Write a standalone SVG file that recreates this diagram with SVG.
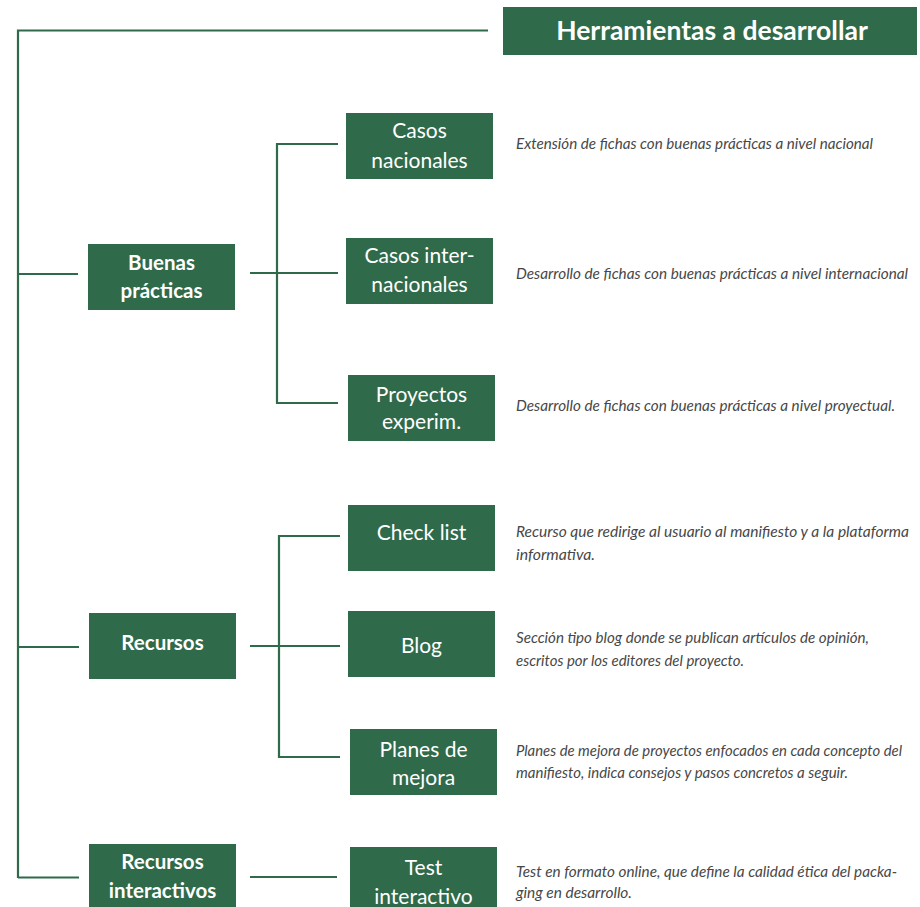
<svg xmlns="http://www.w3.org/2000/svg" width="920" height="907" viewBox="0 0 920 907">
  <style>
    .box { fill: #2f6a4a; }
    .wire { fill: none; stroke: #2f6a4a; stroke-width: 2.2; }
    .lbl { font-family: Lato, "Noto Sans", sans-serif; font-size: 21px; fill: #ffffff; text-anchor: middle; }
    .lbl-b { font-family: Lato, "Noto Sans", sans-serif; font-size: 20.5px; font-weight: 700; fill: #ffffff; text-anchor: middle; }
    .title { font-family: Lato, "Noto Sans", sans-serif; font-size: 26.5px; font-weight: 700; fill: #ffffff; text-anchor: middle; }
    .desc { font-family: Lato, "Noto Sans", sans-serif; font-size: 15px; font-style: italic; font-weight: 400; fill: #474747; }
  </style>
  <rect width="920" height="907" fill="#ffffff"/>

  <!-- connectors -->
  <g id="connectors">
    <polyline class="wire" points="488,30.5 18,30.5 18,878"/>
    <line class="wire" x1="18" y1="274" x2="78" y2="274"/>
    <line class="wire" x1="18" y1="647" x2="79" y2="647"/>
    <line class="wire" x1="18" y1="877.5" x2="79" y2="877.5"/>
    <!-- Buenas prácticas branch -->
    <line class="wire" x1="250" y1="273" x2="338" y2="273"/>
    <polyline class="wire" points="338,144 277,144 277,403 338,403"/>
    <!-- Recursos branch -->
    <line class="wire" x1="250" y1="646" x2="340" y2="646"/>
    <polyline class="wire" points="340,536 279,536 279,757 340,757"/>
    <!-- Recursos interactivos branch -->
    <line class="wire" x1="250" y1="877" x2="337" y2="877"/>
  </g>

  <g id="title">
    <rect class="box" x="503" y="7" width="414" height="48"/>
    <text class="title" x="712" y="40">Herramientas a desarrollar</text>
  </g>

  <g id="buenas-practicas">
    <rect class="box" x="88" y="244" width="147" height="66"/>
    <text class="lbl-b" x="161.5" y="270">Buenas</text>
    <text class="lbl-b" x="161.5" y="298">prácticas</text>
  </g>

  <g id="recursos">
    <rect class="box" x="89" y="613" width="147" height="66"/>
    <text class="lbl-b" x="162.5" y="650">Recursos</text>
  </g>

  <g id="recursos-interactivos">
    <rect class="box" x="89" y="844" width="147" height="63"/>
    <text class="lbl-b" x="162.5" y="869">Recursos</text>
    <text class="lbl-b" x="162.5" y="898">interactivos</text>
  </g>

  <g id="casos-nacionales">
    <rect class="box" x="346" y="113" width="147" height="66"/>
    <text class="lbl" x="419.5" y="138">Casos</text>
    <text class="lbl" x="419.5" y="167.5">nacionales</text>
  </g>

  <g id="casos-internacionales">
    <rect class="box" x="346" y="238" width="147" height="66"/>
    <text class="lbl" x="419.5" y="263">Casos inter-</text>
    <text class="lbl" x="419.5" y="292">nacionales</text>
  </g>

  <g id="proyectos-experim">
    <rect class="box" x="348" y="375" width="147" height="66"/>
    <text class="lbl" x="421.5" y="401.5">Proyectos</text>
    <text class="lbl" x="421.5" y="428.5">experim.</text>
  </g>

  <g id="check-list">
    <rect class="box" x="348" y="505" width="147" height="66"/>
    <text class="lbl" x="421.5" y="540">Check list</text>
  </g>

  <g id="blog">
    <rect class="box" x="348" y="611" width="147" height="66"/>
    <text class="lbl" x="421.5" y="653">Blog</text>
  </g>

  <g id="planes-de-mejora">
    <rect class="box" x="350" y="729" width="147" height="66"/>
    <text class="lbl" x="423.5" y="756.5">Planes de</text>
    <text class="lbl" x="423.5" y="785">mejora</text>
  </g>

  <g id="test-interactivo">
    <rect class="box" x="350" y="847" width="147" height="60"/>
    <text class="lbl" x="423.5" y="875">Test</text>
    <text class="lbl" x="423.5" y="904">interactivo</text>
  </g>

  <!-- descriptions -->
  <g id="descriptions">
    <text class="desc" x="516" y="149" textLength="357" lengthAdjust="spacingAndGlyphs">Extensión de fichas con buenas prácticas a nivel nacional</text>
    <text class="desc" x="516" y="279" textLength="392" lengthAdjust="spacingAndGlyphs">Desarrollo de fichas con buenas prácticas a nivel internacional</text>
    <text class="desc" x="516" y="411" textLength="379" lengthAdjust="spacingAndGlyphs">Desarrollo de fichas con buenas prácticas a nivel proyectual.</text>
    <text class="desc" x="516" y="537" textLength="393" lengthAdjust="spacingAndGlyphs">Recurso que redirige al usuario al manifiesto y a la plataforma</text>
    <text class="desc" x="516" y="560" textLength="79" lengthAdjust="spacingAndGlyphs">informativa.</text>
    <text class="desc" x="516" y="643" textLength="353" lengthAdjust="spacingAndGlyphs">Sección tipo blog donde se publican artículos de opinión,</text>
    <text class="desc" x="516" y="666" textLength="228" lengthAdjust="spacingAndGlyphs">escritos por los editores del proyecto.</text>
    <text class="desc" x="516" y="756" textLength="386" lengthAdjust="spacingAndGlyphs">Planes de mejora de proyectos enfocados en cada concepto del</text>
    <text class="desc" x="516" y="778" textLength="332" lengthAdjust="spacingAndGlyphs">manifiesto, indica consejos y pasos concretos a seguir.</text>
    <text class="desc" x="516" y="877" textLength="381" lengthAdjust="spacingAndGlyphs">Test en formato online, que define la calidad ética del packa-</text>
    <text class="desc" x="516" y="898" textLength="116" lengthAdjust="spacingAndGlyphs">ging en desarrollo.</text>
  </g>
</svg>
